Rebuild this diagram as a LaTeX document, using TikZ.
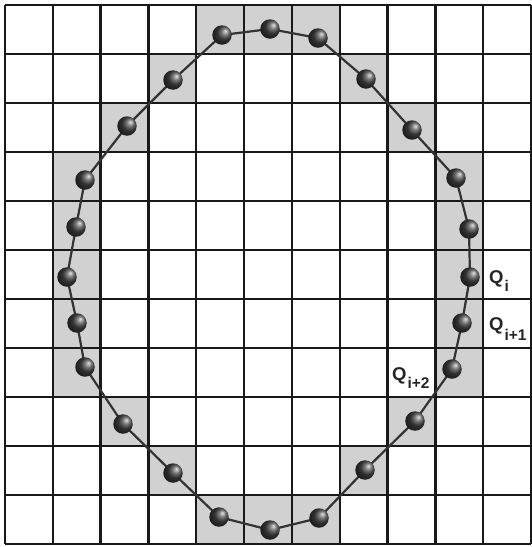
\documentclass[tikz,border=0pt]{standalone}
\usepackage{fontspec}
\setsansfont{Liberation Sans}
\begin{document}
\begin{tikzpicture}[x=1pt,y=-1pt,
  cellfill/.style={fill=black!18},
  gridline/.style={draw=black!90,line width=2.4pt},
  contour/.style={draw=black!80,line width=2.2pt,line join=round},
  ballnode/.style={circle,minimum size=19.5pt,inner sep=0pt,shading=ball,ball color=black!72,shading angle=-85},
  qlabel/.style={anchor=base west,inner sep=0pt,text=black!85,font=\sffamily\bfseries\fontsize{18.5}{18.5}\selectfont}
]
\def\cw{47.82}
\def\ch{49}
\useasboundingbox (0,0) rectangle (532,547);
\fill[white] (0,0) rectangle (532,547);
% shaded cells
\foreach \c/\r in {4/0,5/0,6/0,3/1,7/1,2/2,8/2,1/3,9/3,1/4,9/4,1/5,9/5,1/6,9/6,1/7,9/7,2/8,8/8,3/9,7/9,4/10,5/10,6/10}
  \fill[cellfill] ({5+\c*\cw},{5+\r*\ch}) rectangle ++(\cw,\ch);
% grid
\foreach \k in {0,...,11} {
  \draw[gridline] ({5+\k*\cw},5) -- ({5+\k*\cw},544);
  \draw[gridline] (5,{5+\k*\ch}) -- (531,{5+\k*\ch});
}
% contour points
\foreach \n/\x/\y in {1/222/35,2/270/29,3/318/38,4/366/79,5/412/130,6/456/178,7/469/229,8/470/277,9/462/323,10/452/369,11/415/421,12/365/470,13/319/518,14/270/530,15/219/517,16/173/473,17/123/424,18/85/367,19/77/323,20/67/277,21/76/227,22/85/180,23/127/126,24/173/80}
  \coordinate (q\n) at (\x,\y);
\draw[contour] (q1) -- (q2) -- (q3) -- (q4) -- (q5) -- (q6) -- (q7) -- (q8) -- (q9) -- (q10) -- (q11) -- (q12) -- (q13) -- (q14) -- (q15) -- (q16) -- (q17) -- (q18) -- (q19) -- (q20) -- (q21) -- (q22) -- (q23) -- (q24) -- cycle;
\foreach \n in {1,...,24}
  \node[ballnode] (b\n) at (q\n) {};
% labels
\node[qlabel] (lqi) at (489,283) {Q\hspace{1pt}\raisebox{-8pt}{\fontsize{15.5}{15.5}\selectfont i}};
\node[qlabel] (lqi1) at (489,330) {Q\hspace{1pt}\raisebox{-10pt}{\fontsize{15.5}{15.5}\selectfont i+1}};
\node[qlabel] (lqi2) at (392,380) {Q\hspace{1pt}\raisebox{-8pt}{\fontsize{15.5}{15.5}\selectfont i+2}};
\end{tikzpicture}
\end{document}
